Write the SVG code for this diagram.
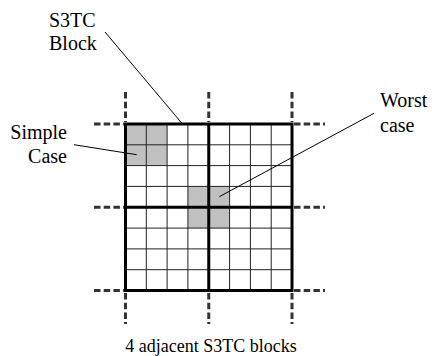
<svg xmlns="http://www.w3.org/2000/svg" width="432" height="356" viewBox="0 0 432 356">
<style>
.lbl{font-size:20px;fill:#000}
.cap{font-size:18px;fill:#000}
.thin{stroke:#222;stroke-width:1;fill:none}
.thick{stroke:#000;stroke-width:3;fill:none}
.dash{stroke:#333;stroke-width:3;stroke-dasharray:6.5 3.2;fill:none}
.shade{fill:#c0c0c0}
.lead{stroke:#000;stroke-width:1;fill:none}
</style>
<rect width="432" height="356" fill="#fff"/>
<g id="grid">
<g id="shaded">
<rect class="shade" x="125.5" y="124" width="41.6" height="41.6"/>
<rect class="shade" x="187.9" y="186.4" width="41.6" height="41.6"/>
</g>
<g id="thin-lines">
<path class="thin" d="M146.3 124V290.5M167.1 124V290.5M187.9 124V290.5M229.6 124V290.5M250.4 124V290.5M271.2 124V290.5M125.5 144.8H292M125.5 165.6H292M125.5 186.4H292M125.5 228.1H292M125.5 248.9H292M125.5 269.7H292"/>
</g>
<g id="blocks">
<rect class="thick" x="125.5" y="124" width="166.5" height="166.5"/>
<path class="thick" d="M208.75 124V290.5M125.5 207.25H292"/>
</g>
<g id="dashes">
<path class="dash" d="M125.5 92V122M208.75 92V122M292 92V122"/>
<path class="dash" d="M125.5 293V324M208.75 293V324M292 293V324"/>
<path class="dash" d="M94 124H124M94 207.25H124M94 290.5H124"/>
<path class="dash" d="M294 124H325M294 207.25H325M294 290.5H325"/>
</g>
</g>
<g id="connectors">
<line class="lead" x1="105" y1="32" x2="182.5" y2="124"/>
<line class="lead" x1="74" y1="144.7" x2="136.7" y2="154.7"/>
<line class="lead" x1="374" y1="113.3" x2="219.3" y2="196.7"/>
</g>
<g font-family="'Liberation Serif', 'DejaVu Serif', serif">
<g id="label-s3tc-block">
<text class="lbl" x="49" y="26.5">S3TC</text>
<text class="lbl" x="49" y="50">Block</text>
</g>
<g id="label-simple-case">
<text class="lbl" x="67" y="139.3" text-anchor="end">Simple</text>
<text class="lbl" x="67" y="163.3" text-anchor="end">Case</text>
</g>
<g id="label-worst-case">
<text class="lbl" x="380" y="107.3">Worst</text>
<text class="lbl" x="380" y="131.7">case</text>
</g>
<g id="caption">
<text class="cap" x="211" y="351.7" text-anchor="middle">4 adjacent S3TC blocks</text>
</g>
</g>
</svg>
